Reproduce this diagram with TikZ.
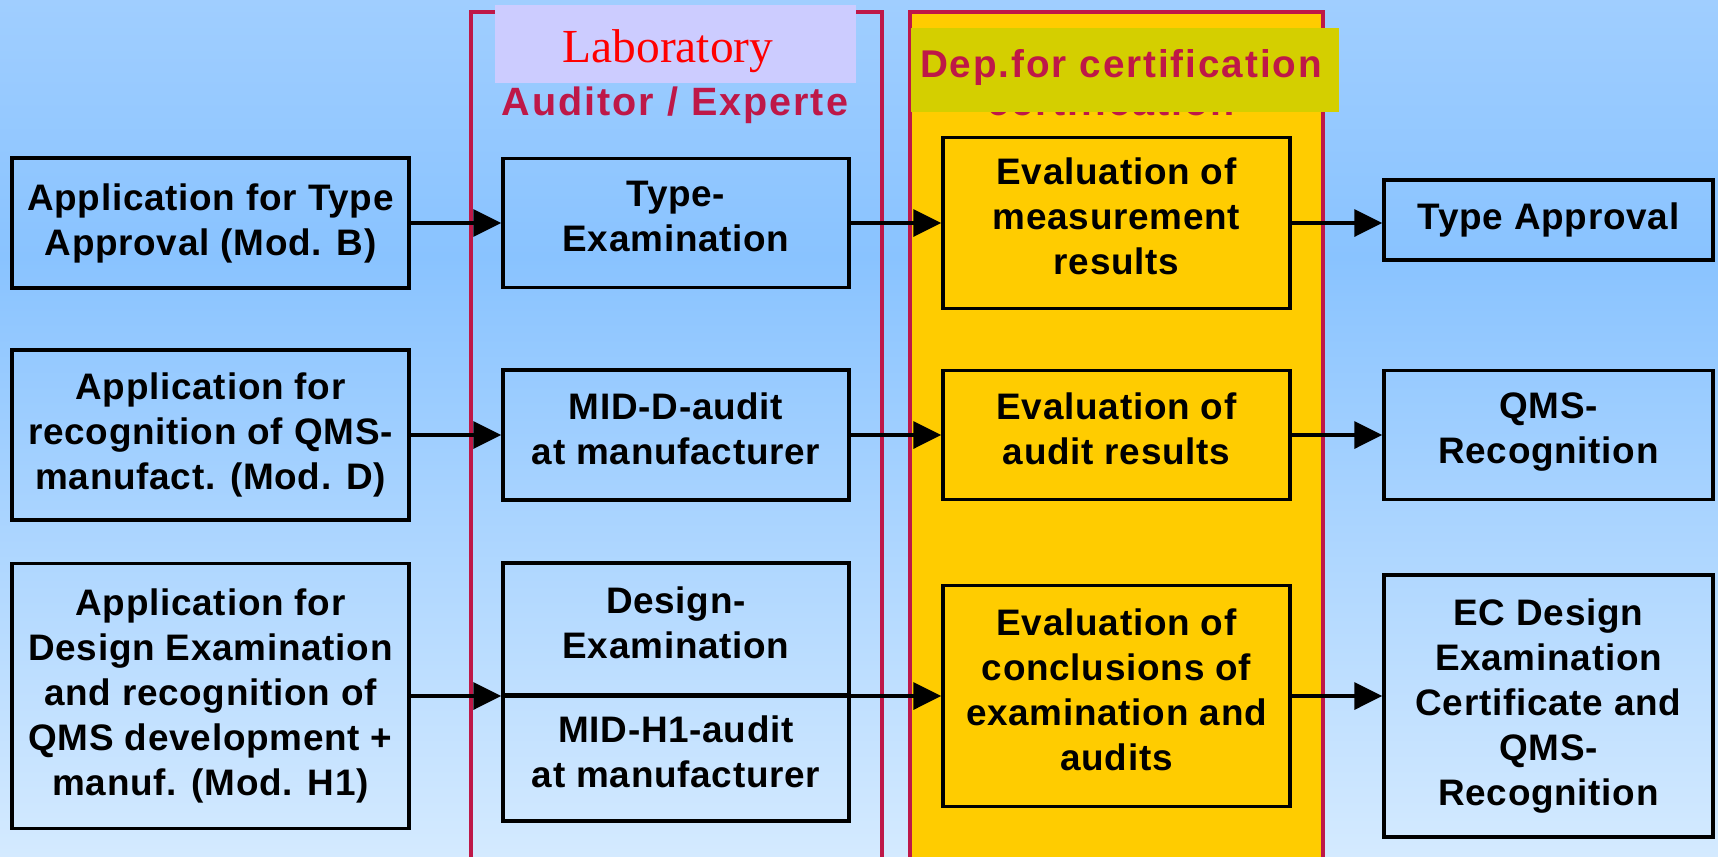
\documentclass[tikz,border=0pt]{standalone}
\usepackage{fontspec}
\setmainfont{Liberation Sans}
\newfontfamily\boxfont[LetterSpace=2]{Liberation Sans}
\newfontfamily\headfont[LetterSpace=5]{Liberation Sans}
\newfontfamily\labfont{Liberation Serif}
\usetikzlibrary{arrows.meta}
\definecolor{framered}{RGB}{190,24,72}
\definecolor{certgold}{RGB}{255,204,0}
\definecolor{depyellow}{RGB}{212,207,0}
\definecolor{labviolet}{RGB}{204,204,255}
\definecolor{bgtop}{RGB}{160,206,255}
\definecolor{bgmid}{RGB}{137,195,255}
\definecolor{bgbot}{RGB}{212,234,255}
\pgfdeclareverticalshading{bgshade}{100bp}{color(0bp)=(bgbot); color(25bp)=(bgbot); color(60bp)=(bgmid); color(75bp)=(bgtop); color(100bp)=(bgtop)}
\begin{document}
\begin{tikzpicture}[x=0.02cm,y=-0.02cm,
  box/.style={draw=black, line width=2pt, align=center, inner sep=0pt,
    font=\boxfont\bfseries\fontsize{21}{25.6}\selectfont},
  up/.style={text depth=0.26cm},
  head/.style={anchor=base, inner sep=0pt, text=framered,
    font=\headfont\bfseries\fontsize{22.5}{27}\selectfont},
  arr/.style={line width=2pt, -{Triangle[length=0.56cm,width=0.54cm]}}]
\useasboundingbox (0,0) rectangle (1718,856);
\clip (0,0) rectangle (1718,856);
\shade[shading=bgshade] (0,0) rectangle (1718,856);
% columns
\draw[framered, line width=2pt] (471,12) rectangle (882,880);
\filldraw[fill=certgold, draw=framered, line width=2pt] (910,12) rectangle (1323,880);
% column heads
\node[fill=labviolet, minimum width=7.22cm, minimum height=1.56cm, inner sep=0pt] (labbox) at (675.5,44) {};
\node[anchor=base, inner sep=0pt, text=red, font=\labfont\fontsize{27}{32}\selectfont] (labtitle) at (668,62) {Laboratory};
\node[head] (auditor) at (675,115) {Auditor / Experte};
\node[head] (certfrag) at (1111,115) {certification};
\node[fill=depyellow, minimum width=8.56cm, minimum height=1.68cm, inner sep=0pt] (depbox) at (1125,70) {};
\node[head, font=\headfont\bfseries\fontsize{22}{27}\selectfont] (dephead) at (1121,77) {Dep.for certification};
% applications
\node[box, minimum width=7.94cm, minimum height=2.6cm] (app1) at (210.5,223) {Application for Type\\Approval (Mod. B)};
\node[box, minimum width=7.94cm, minimum height=3.4cm] (app2) at (210.5,435) {Application for\\recognition of QMS-\\manufact. (Mod. D)};
\node[box, minimum width=7.94cm, minimum height=5.3cm] (app3) at (210.5,696) {Application for\\Design Examination\\and recognition of\\QMS development +\\manuf. (Mod. H1)};
% laboratory
\node[box, up, minimum width=6.92cm, minimum height=2.58cm] (lab1) at (676,223) {Type-\\Examination};
\node[box, up, minimum width=6.92cm, minimum height=2.6cm] (lab2) at (676,435) {MID-D-audit\\at manufacturer};
\node[box, up, minimum width=6.92cm, minimum height=2.64cm] (lab3a) at (676,629) {Design-\\Examination};
\node[box, up, minimum width=6.92cm, minimum height=2.52cm] (lab3b) at (676,758) {MID-H1-audit\\at manufacturer};
% certification
\node[box, up, minimum width=6.94cm, minimum height=3.42cm] (eval1) at (1116.5,223) {Evaluation of\\measurement\\results};
\node[box, up, minimum width=6.94cm, minimum height=2.58cm] (eval2) at (1116.5,435) {Evaluation of\\audit results};
\node[box, up, minimum width=6.94cm, minimum height=4.42cm] (eval3) at (1116.5,696) {Evaluation of\\conclusions of\\examination and\\audits};
% results
\node[box, minimum width=6.58cm, minimum height=1.6cm] (res1) at (1548.5,220) {Type Approval};
\node[box, up, minimum width=6.58cm, minimum height=2.58cm] (res2) at (1548.5,435) {QMS-\\Recognition};
\node[box, minimum width=6.58cm, minimum height=5.24cm] (res3) at (1548.5,706) {EC Design\\Examination\\Certificate and\\QMS-\\Recognition};
% arrows
\draw[arr] (app1) -- (lab1);
\draw[arr] (lab1) -- (eval1);
\draw[arr] (eval1.east) -- (eval1.east -| res1.west);
\draw[arr] (app2) -- (lab2);
\draw[arr] (lab2) -- (eval2);
\draw[arr] (eval2) -- (res2);
\draw[arr] (app3.east) -- (app3.east -| lab3a.west);
\draw[arr] (app3.east -| lab3a.west) -- (eval3.west);
\draw[arr] (eval3.east) -- (eval3.east -| res3.west);
\end{tikzpicture}
\end{document}
